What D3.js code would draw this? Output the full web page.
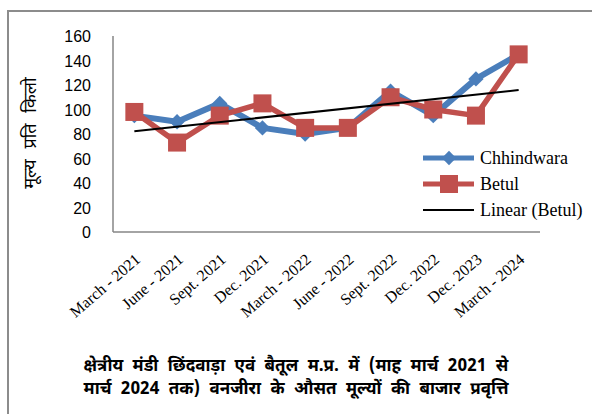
<!DOCTYPE html>
<html>
<head>
<meta charset="utf-8">
<script src="https://cdn.jsdelivr.net/npm/d3@7/dist/d3.min.js"></script>
<style>
  html, body { margin: 0; padding: 0; background: #fff; }
  svg { display: block; }
</style>
</head>
<body>
<div id="chart"></div>
<script>
    // Gegevens.
    var categories = ['March - 2021', 'June - 2021', 'Sept. 2021', 'Dec. 2021', 'March - 2022',
        'June - 2022', 'Sept. 2022', 'Dec. 2022', 'Dec. 2023', 'March - 2024'];
    var chhindwara = [95, 90, 105, 85, 80, 85, 115, 95, 125, 145];
    var betul = [98, 73, 95, 105, 85, 85, 110, 100, 95, 145];
    var yTicks = [0, 20, 40, 60, 80, 100, 120, 140, 160];
    var yTitle = 'मूल्य प्रति किलो';
    var caption = ['क्षेत्रीय मंडी छिंदवाड़ा एवं बैतूल म.प्र. में (माह मार्च 2021 से',
        'मार्च 2024 तक) वनजीरा के औसत मूल्यों की बाजार प्रवृत्ति'];
    var legendLabels = ['Chhindwara', 'Betul', 'Linear (Betul)'];

    var W = 592, H = 414;
    var BLUE = '#4a7ebb', RED = '#c0504d';
    var devFont = '"Noto Sans Devanagari", "Lohit Devanagari", "Mangal", sans-serif';
    var serif = '"Liberation Serif", "Times New Roman", serif';

    var svg = d3.select('#chart').append('svg')
        .attr('width', W).attr('height', H);

    // kader om het geheel (loopt rechts en onder door)
    svg.append('rect')
        .attr('x', 8).attr('y', 11)
        .attr('width', W + 20).attr('height', H + 20)
        .attr('fill', 'none').attr('stroke', '#8c8c8c').attr('stroke-width', 2);

    var x = d3.scaleBand().domain(categories).range([113, 540]);
    var y = d3.scaleLinear().domain([0, 160]).range([232, 36]);
    function cx(d, i) { return x(categories[i]) + x.bandwidth() / 2; }

    // assen
    svg.append('line').attr('x1', 113).attr('x2', 113).attr('y1', y(160)).attr('y2', y(0))
        .attr('stroke', '#868686').attr('stroke-width', 1.5);
    svg.append('line').attr('x1', 113).attr('x2', 540).attr('y1', y(0)).attr('y2', y(0))
        .attr('stroke', '#868686').attr('stroke-width', 1.5);

    svg.append('g').selectAll('text').data(yTicks).join('text')
        .attr('x', 91).attr('y', function (d) { return y(d) + 6; })
        .attr('text-anchor', 'end')
        .attr('font-family', '"Liberation Sans", Arial, sans-serif')
        .attr('font-size', 16).attr('fill', '#000')
        .text(function (d) { return d; });

    svg.append('text')
        .attr('transform', 'translate(36,133) rotate(-90)')
        .attr('text-anchor', 'middle')
        .attr('font-family', devFont)
        .attr('font-size', 18).attr('word-spacing', 6).attr('fill', '#000')
        .text(yTitle);

    // categorie-labels, schuin
    svg.append('g').selectAll('text').data(categories).join('text')
        .attr('transform', function (d) {
            return 'translate(' + (x(d) + x.bandwidth() / 2 + 7) + ',261) rotate(-41)';
        })
        .attr('text-anchor', 'end')
        .attr('font-family', serif)
        .attr('font-size', 16).attr('fill', '#000')
        .text(function (d) { return d; });

    // lineaire trend voor Betul (kleinste kwadraten)
    var n = betul.length;
    var mx = (n - 1) / 2, my = d3.mean(betul);
    var sxy = d3.sum(betul, function (v, i) { return (i - mx) * (v - my); });
    var sxx = d3.sum(betul, function (v, i) { return (i - mx) * (i - mx); });
    var slope = sxy / sxx;
    var trend = [0, n - 1].map(function (i) { return { i: i, v: my + slope * (i - mx) }; });

    var line = d3.line()
        .x(function (d, i) { return cx(d, i); })
        .y(function (d) { return y(d); });

    svg.append('path').datum(chhindwara).attr('d', line)
        .attr('fill', 'none').attr('stroke', BLUE).attr('stroke-width', 6)
        .attr('stroke-linejoin', 'round');

    svg.append('g').selectAll('path').data(chhindwara).join('path')
        .attr('d', d3.symbol(d3.symbolDiamond2, 150)())
        .attr('transform', function (d, i) { return 'translate(' + cx(d, i) + ',' + y(d) + ')'; })
        .attr('fill', BLUE);

    svg.append('path').datum(betul).attr('d', line)
        .attr('fill', 'none').attr('stroke', RED).attr('stroke-width', 5.5)
        .attr('stroke-linejoin', 'round');

    svg.append('g').selectAll('rect').data(betul).join('rect')
        .attr('x', function (d, i) { return cx(d, i) - 9; })
        .attr('y', function (d) { return y(d) - 9; })
        .attr('width', 18).attr('height', 18)
        .attr('fill', RED);

    svg.append('path').datum(trend)
        .attr('d', d3.line()
            .x(function (d) { return cx(null, d.i); })
            .y(function (d) { return y(d.v); }))
        .attr('fill', 'none').attr('stroke', '#000').attr('stroke-width', 2);

    // legenda
    var leg = svg.append('g').attr('transform', 'translate(423,0)');
    var rows = [158, 184, 210];
    leg.selectAll('line').data(rows).join('line')
        .attr('x1', 0).attr('x2', 51)
        .attr('y1', function (d) { return d; }).attr('y2', function (d) { return d; })
        .attr('stroke', function (d, i) { return [BLUE, RED, '#000'][i]; })
        .attr('stroke-width', function (d, i) { return i === 2 ? 2 : 5; });
    leg.append('path')
        .attr('d', d3.symbol(d3.symbolDiamond2, 130)())
        .attr('transform', 'translate(26,' + rows[0] + ')')
        .attr('fill', BLUE);
    leg.append('rect')
        .attr('x', 17).attr('y', rows[1] - 9).attr('width', 18).attr('height', 18)
        .attr('fill', RED);
    leg.selectAll('text').data(legendLabels).join('text')
        .attr('x', 57).attr('y', function (d, i) { return rows[i] + 6; })
        .attr('font-family', serif)
        .attr('font-size', 18).attr('fill', '#000')
        .text(function (d) { return d; });

    // onderschrift
    svg.append('g').selectAll('text').data(caption).join('text')
        .attr('x', 296).attr('y', function (d, i) { return 371 + i * 23; })
        .attr('text-anchor', 'middle')
        .attr('font-family', devFont)
        .attr('font-size', 17).attr('font-weight', 'bold').attr('word-spacing', 5)
        .attr('fill', '#000')
        .text(function (d) { return d; });
</script>
</body>
</html>
